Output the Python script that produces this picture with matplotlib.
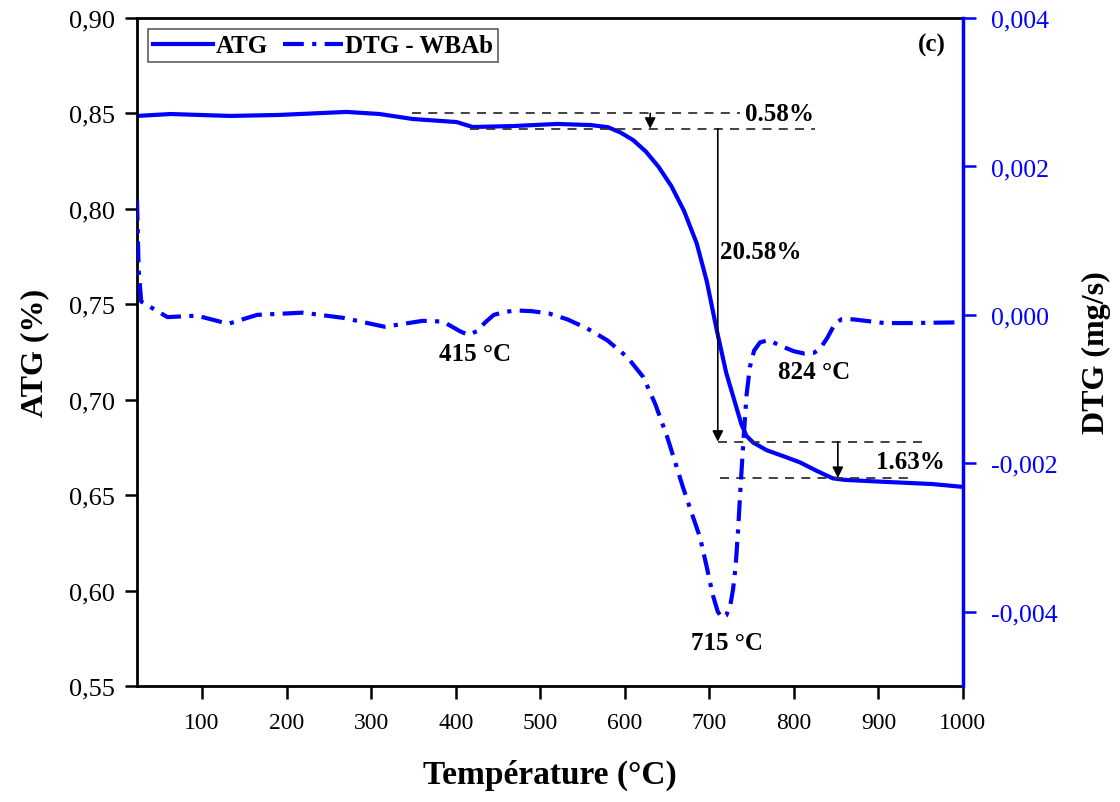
import numpy as np
import matplotlib
matplotlib.use('Agg')
from matplotlib import pyplot as plt
from matplotlib.lines import Line2D

plt.rcParams['font.family'] = ['Liberation Serif', 'DejaVu Serif']

# ATG curve (left axis)
temp_atg = [23, 63, 133, 190, 271, 310, 349, 401, 420, 468, 520, 560, 580, 595,
            610, 625, 640, 655, 670, 685, 697, 709, 720, 730, 738, 744, 752, 768,
            790, 807, 828, 846, 860, 886, 964, 1000]
atg = [0.8487, 0.8497, 0.8487, 0.8492, 0.8508, 0.8497, 0.8471, 0.8455, 0.8429,
       0.8434, 0.8445, 0.8439, 0.8428, 0.8400, 0.8360, 0.8300, 0.8220, 0.8120,
       0.7990, 0.7820, 0.7620, 0.7360, 0.7140, 0.6990, 0.6870, 0.6810, 0.6775,
       0.6735, 0.6700, 0.6672, 0.6625, 0.6588, 0.6580, 0.6574, 0.6558, 0.6543]

# DTG curve (right axis)
temp_dtg = [23, 25, 28, 59, 94, 131, 165, 219, 267, 316, 361, 385, 405, 415, 425,
            435, 445, 458, 472, 490, 510, 532, 555, 579, 603, 622, 636, 650, 660,
            669, 680, 689, 697, 704, 710, 715, 720, 725, 728, 731, 734, 737, 740,
            744, 748, 753, 760, 770, 785, 800, 812, 824, 832, 840, 848, 856, 870,
            907, 937, 1000]
dtg = [0.00155, 0.0006, 0.00018, -0.00003, -0.00001, -0.00012, 0.0, 0.00003,
       -0.00004, -0.00016, -0.00008, -0.00009, -0.00022, -0.00027, -0.00022,
       -0.0001, 0.0, 0.00004, 0.00006, 0.00005, 0.00002, -0.00006, -0.00018,
       -0.00034, -0.00057, -0.00084, -0.0012, -0.00164, -0.0020, -0.00233,
       -0.0027, -0.0030, -0.0034, -0.00377, -0.0040, -0.00408, -0.00405,
       -0.0039, -0.0037, -0.0034, -0.0029, -0.0023, -0.00175, -0.00108, -0.0007,
       -0.00048, -0.00037, -0.00034, -0.00042, -0.00049, -0.00052, -0.00051,
       -0.00044, -0.0003, -0.00013, -0.00006, -0.00006, -0.00011, -0.00011,
       -0.0001]

# mass loss steps
lvl_top, lvl_1, lvl_2, lvl_3 = 0.850, 0.842, 0.678, 0.659
loss_labels = ['0.58%', '20.58%', '1.63%']
peak_temps = [415, 715, 824]

blue = '#0000ff'
fig = plt.figure(figsize=(11.2, 8.03), dpi=100)
ax = fig.add_axes([0.1223, 0.1445, 0.7375, 0.8318])
ax2 = ax.twinx()

ax.plot(temp_atg, atg, color=blue, lw=3, solid_capstyle='round', solid_joinstyle='round')
ax2.plot(temp_dtg, dtg, color=blue, lw=3, dashes=(5, 2, 1, 2))

ax.set_xlim(23, 1000)
ax.set_ylim(0.55, 0.90)
ax2.set_ylim(-0.005, 0.004)
ax.set_xticks(np.arange(100, 1001, 100))
ax.set_yticks(np.arange(0.55, 0.901, 0.05))
ax2.set_yticks([-0.004, -0.002, 0.0, 0.002, 0.004])
ax.set_yticklabels([f'{v:.2f}'.replace('.', ',') for v in np.arange(0.55, 0.901, 0.05)])
ax2.set_yticklabels([f'{v:.3f}'.replace('.', ',') for v in [-0.004, -0.002, 0.0, 0.002, 0.004]])

for s in ['left', 'bottom', 'top']:
    ax.spines[s].set_linewidth(2)
ax.spines['right'].set_visible(False)
for s in ['left', 'bottom', 'top']:
    ax2.spines[s].set_visible(False)
ax2.spines['right'].set_color(blue)
ax2.spines['right'].set_linewidth(2.5)

ax.tick_params(axis='x', direction='out', length=9, width=1.8, labelsize=17, pad=10)
ax.tick_params(axis='y', direction='out', length=9, width=1.8, labelsize=19, pad=7)
ax2.tick_params(direction='out', length=9, width=1.8, labelsize=18.5, pad=11,
                color=blue, labelcolor=blue)

ax.set_xlabel('Température (°C)', fontsize=24, fontweight='bold', labelpad=18)
ax.set_ylabel('ATG (%)', fontsize=23, fontweight='bold', labelpad=14)
ax2.set_ylabel('DTG (mg/s)', fontsize=23, fontweight='bold', labelpad=18)

# dashed guide lines for the mass loss steps
dash_kw = dict(color='#333333', lw=1.3, ls=(0, (5, 4)))
ax.plot([348, 736], [lvl_top, lvl_top], **dash_kw)
ax.plot([417, 825], [lvl_1, lvl_1], **dash_kw)
ax.plot([710, 951], [lvl_2, lvl_2], **dash_kw)
ax.plot([713, 939], [lvl_3, lvl_3], **dash_kw)

arr = dict(arrowstyle='-|>', color='black', lw=1.2, mutation_scale=16, shrinkA=0, shrinkB=0)
ax.annotate('', xy=(630, lvl_1), xytext=(630, lvl_top), arrowprops=arr)
ax.annotate('', xy=(710, lvl_2), xytext=(710, lvl_1), arrowprops=arr)
ax.annotate('', xy=(852, lvl_3), xytext=(852, lvl_2), arrowprops=arr)

tk = dict(fontsize=18, fontweight='bold')
ax.text(742, lvl_top, loss_labels[0], va='center', ha='left', **tk)
ax.text(713, 0.7774, loss_labels[1], va='center', ha='left', **tk)
ax.text(897, 0.6674, loss_labels[2], va='center', ha='left', **tk)
ax.text(peak_temps[0] + 8, 0.724, f'{peak_temps[0]} °C', va='center', ha='center', **tk)
ax.text(peak_temps[1] + 6, 0.573, f'{peak_temps[1]} °C', va='center', ha='center', **tk)
ax.text(peak_temps[2], 0.715, f'{peak_temps[2]} °C', va='center', ha='center', **tk)
ax.text(0.962, 0.961, '(c)', transform=ax.transAxes, ha='center', va='center',
        fontsize=18, fontweight='bold')

handles = [Line2D([], [], color=blue, lw=3),
           Line2D([], [], color=blue, lw=3, dashes=(5, 2, 1, 2))]
leg = ax2.legend(handles, ['ATG', 'DTG - WBAb'], loc='upper left', ncol=2,
                 prop={'size': 18, 'weight': 'bold'}, frameon=True, fancybox=False,
                 edgecolor='#333333', handlelength=2.4, handletextpad=0.1,
                 columnspacing=0.6, borderpad=0.2, borderaxespad=0.45)
leg.get_frame().set_linewidth(1.2)

fig.savefig('out.png', dpi=100)
